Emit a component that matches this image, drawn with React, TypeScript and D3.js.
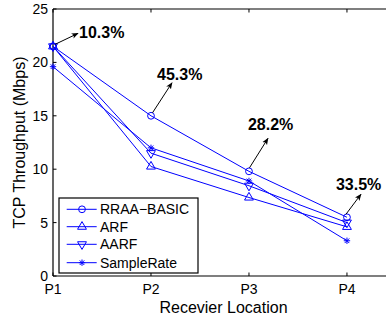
import React from "react";
import * as d3 from "d3";

const categories = ["P1", "P2", "P3", "P4"];
const yTicks = [0, 5, 10, 15, 20, 25];
const seriesNames = ["RRAA−BASIC", "ARF", "AARF", "SampleRate"];
const rraa = [21.5, 15.0, 9.8, 5.5];
const arf = [21.5, 10.25, 7.35, 4.6];
const aarf = [21.5, 11.5, 8.45, 5.0];
const sampleRate = [19.6, 12.0, 8.9, 3.3];
const markers = ["circle", "up", "down", "star"];
const annotations = [
  { label: "10.3%", cat: 0, val: 21.5 },
  { label: "45.3%", cat: 1, val: 15.0 },
  { label: "28.2%", cat: 2, val: 9.8 },
  { label: "33.5%", cat: 3, val: 5.5 },
];

const W = 386, H = 320;
const FONT = "'Liberation Sans', Arial, Helvetica, sans-serif";
const BLUE = "#0000ff";

function Marker({ type, x, y }: { type: string; x: number; y: number }) {
  if (type === "circle") return <circle cx={x} cy={y} r={3.4} fill="none" stroke={BLUE} strokeWidth={1} />;
  if (type === "up") {
    const p = d3.symbol().type(d3.symbolTriangle).size(34)();
    return <path d={p || ""} transform={`translate(${x},${y})`} fill="none" stroke={BLUE} strokeWidth={1} />;
  }
  if (type === "down") {
    const p = d3.symbol().type(d3.symbolTriangle).size(34)();
    return <path d={p || ""} transform={`translate(${x},${y}) rotate(180)`} fill="none" stroke={BLUE} strokeWidth={1} />;
  }
  const r = 3.2, q = r * 0.72;
  const d = `M${-r},0H${r}M0,${-r}V${r}M${-q},${-q}L${q},${q}M${-q},${q}L${q},${-q}`;
  return <path d={d} transform={`translate(${x},${y})`} stroke={BLUE} strokeWidth={1} fill="none" />;
}

export default function App() {
  const x = d3.scaleLinear().domain([1, 4.48]).range([53, 394]);
  const y = d3.scaleLinear().domain([0, 25]).range([276, 9]);
  const series = [rraa, arf, aarf, sampleRate];
  const line = d3.line<number>().x((_, i) => x(i + 1)).y((v) => y(v));
  const x0 = x.range()[0], x1 = x.range()[1];
  const yb = y.range()[0], yt = y.range()[1];

  // annotation offsets (text anchor relative to data point)
  const annOffsets = [
    { tx: 26, ty: -8, hx: 25, hy: -13, sx: 2, sy: -2, ax: 0 },
    { tx: 6, ty: -36, hx: 21, hy: -33, sx: 1.5, sy: -3, ax: 0 },
    { tx: -1, ty: -41, hx: 19, hy: -33, sx: 0.5, sy: -3.5, ax: 0 },
    { tx: -11, ty: -27, hx: 14, hy: -23, sx: -1, sy: -3, ax: 0 },
  ];

  const legendRows = [209.3, 226.7, 244.3, 262.7];

  return (
    <svg width={W} height={H} style={{ position: "absolute", left: 0, top: 0, background: "#fff" }} fontFamily={FONT}>
      <defs>
        <marker id="ah" viewBox="0 0 10 10" refX="9" refY="5" markerWidth="7" markerHeight="7" orient="auto" markerUnits="userSpaceOnUse">
          <path d="M0,1 L10,5 L0,9 L2.5,5 Z" fill="#000" />
        </marker>
      </defs>
      {/* axes frame */}
      <line x1={x0} x2={x1} y1={yb} y2={yb} stroke="#000" strokeWidth={1.2} />
      <line x1={x0} x2={x1} y1={yt} y2={yt} stroke="#000" strokeWidth={1.2} />
      <line x1={x0} x2={x0} y1={yt} y2={yb} stroke="#000" strokeWidth={1.2} />
      {/* x ticks */}
      {categories.map((c, i) => (
        <g key={c}>
          <line x1={x(i + 1)} x2={x(i + 1)} y1={yb} y2={yb - 3.5} stroke="#000" />
          <line x1={x(i + 1)} x2={x(i + 1)} y1={yt} y2={yt + 3.5} stroke="#000" />
          <text x={x(i + 1)} y={294} fontSize={14} textAnchor="middle">{c}</text>
        </g>
      ))}
      {/* y ticks */}
      {yTicks.map((t) => (
        <g key={t}>
          <line x1={x0} x2={x0 + 3.5} y1={y(t)} y2={y(t)} stroke="#000" />
          <text x={48} y={y(t)} dy="0.36em" fontSize={14} textAnchor="end">{t}</text>
        </g>
      ))}
      <text x={223.5} y={313} fontSize={16} textAnchor="middle">Recevier Location</text>
      <text transform={`translate(25,142.5) rotate(-90)`} fontSize={16} textAnchor="middle">TCP Throughput (Mbps)</text>
      {/* series */}
      {series.map((s, k) => (
        <g key={k}>
          <path d={line(s) || ""} fill="none" stroke={BLUE} strokeWidth={1} />
          {s.map((v, i) => (
            <Marker key={i} type={markers[k]} x={x(i + 1)} y={y(v)} />
          ))}
        </g>
      ))}
      {/* annotations */}
      {annotations.map((a, i) => {
        const px = x(a.cat + 1), py = y(a.val);
        const o = annOffsets[i];
        return (
          <g key={a.label}>
            <line x1={px + o.sx} y1={py + o.sy} x2={px + o.hx} y2={py + o.hy} stroke="#000" strokeWidth={1} markerEnd="url(#ah)" />
            <text x={px + o.tx} y={py + o.ty} fontSize={16} fontWeight="bold">{a.label}</text>
          </g>
        );
      })}
      {/* legend */}
      <rect x={59} y={198} width={139} height={75} fill="#fff" stroke="#000" strokeWidth={1.2} />
      {seriesNames.map((n, k) => (
        <g key={n}>
          <line x1={66.7} x2={96.7} y1={legendRows[k]} y2={legendRows[k]} stroke={BLUE} strokeWidth={1} />
          <Marker type={markers[k]} x={82} y={legendRows[k]} />
          <text x={100} y={legendRows[k] + 5} fontSize={14}>{n}</text>
        </g>
      ))}
    </svg>
  );
}
